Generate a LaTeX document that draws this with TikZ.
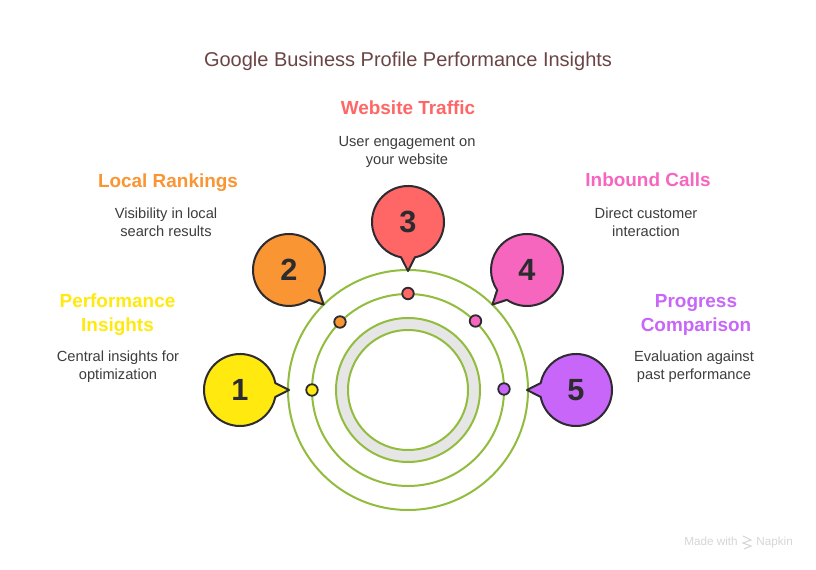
\documentclass[tikz,border=0pt]{standalone}
\usepackage{fontspec}
\setmainfont{Liberation Sans}
\usetikzlibrary{calc}
\definecolor{cgreen}{HTML}{92BC3D}
\definecolor{cring}{HTML}{E6E6E6}
\definecolor{cdark}{HTML}{2B2B30}
\definecolor{ctext}{HTML}{3D3D3D}
\definecolor{ctitle}{HTML}{6B4545}
\definecolor{cyel}{HTML}{FFE90F}
\definecolor{cora}{HTML}{F99533}
\definecolor{cred}{HTML}{FF6666}
\definecolor{cpink}{HTML}{F766BE}
\definecolor{cpur}{HTML}{C866F9}
\definecolor{cmark}{HTML}{D6D6D6}
\tikzset{
  ringline/.style={draw=cgreen,line width=1.5pt,fill=none},
  bubble/.style={draw=cdark,line width=1.5pt,line join=round},
  numlabel/.style={text=cdark,font=\fontsize{23}{23}\selectfont\bfseries,inner sep=0pt},
  dot/.style={circle,draw=cdark,line width=1.35pt,minimum size=11.5pt*0.75,inner sep=0pt},
  headlabel/.style={font=\fontsize{14.2}{18}\selectfont\bfseries,align=center,inner sep=0pt},
  bodylabel/.style={text=ctext,font=\fontsize{11}{13.5}\selectfont,align=center,inner sep=0pt},
  marklabel/.style={text=cmark,font=\fontsize{8.8}{10}\selectfont,inner sep=0pt,anchor=base west},
}
% name, centre, tail angle, colour, number
\newcommand{\bubblenode}[5]{%
  \coordinate (#1) at (#2);
  \path[bubble,fill=#4] ($(#1)+(#3:49)$) -- ($(#1)+(#3+11:36)$)
     arc[start angle=#3+11,end angle=#3+349,radius=27pt] -- cycle;
  \node[numlabel] (#1num) at (#1) {#5};
}
\begin{document}
\begin{tikzpicture}[x=0.75pt,y=0.75pt]
\useasboundingbox (0,0) rectangle (816,570);
\fill[white] (0,0) rectangle (816,570);
\node[text=ctitle,font=\fontsize{15}{18}\selectfont,inner sep=0pt] (title) at (408,508.5) {Google Business Profile Performance Insights};
% rings
\coordinate (hub) at (408,180);
\fill[cring,even odd rule] (hub) circle[radius=54pt] (hub) circle[radius=45pt];
\draw[ringline] (hub) circle[radius=90pt];
\draw[ringline] (hub) circle[radius=72pt];
\draw[ringline] (hub) circle[radius=54pt];
\draw[ringline] (hub) circle[radius=45pt];
% dots
\node[dot,fill=cyel] (d1) at (312,180) {};
\node[dot,fill=cora] (d2) at (340,248) {};
\node[dot,fill=cred] (d3) at (408,276.5) {};
\node[dot,fill=cpink] (d4) at (475.5,249) {};
\node[dot,fill=cpur] (d5) at (504,181) {};
% bubbles
\bubblenode{b1}{240,180}{0}{cyel}{1}
\bubblenode{b2}{289,300}{-45}{cora}{2}
\bubblenode{b3}{408,348}{-90}{cred}{3}
\bubblenode{b4}{527,300}{-135}{cpink}{4}
\bubblenode{b5}{576,180}{180}{cpur}{5}
% labels
\node[headlabel,text=cyel] (h1) at (117.5,255) {Performance\\[0pt]Insights};
\node[bodylabel] (t1) at (118,203) {Central insights for\\optimization};
\node[headlabel,text=cora] (h2) at (168,387) {Local Rankings};
\node[bodylabel] (t2) at (166,348) {Visibility in local\\search results};
\node[headlabel,text=cred] (h3) at (408,462) {Website Traffic};
\node[bodylabel] (t3) at (407,418) {User engagement on\\your website};
\node[headlabel,text=cpink] (h4) at (648,390) {Inbound Calls};
\node[bodylabel] (t4) at (646,348) {Direct customer\\interaction};
\node[headlabel,text=cpur] (h5) at (696,255) {Progress\\[0pt]Comparison};
\node[bodylabel] (t5) at (694,203) {Evaluation against\\past performance};
% watermark
\node[marklabel] (wm1) at (684,24) {Made with};
\node[marklabel] (wm2) at (756,24) {Napkin};
\draw[cmark,line width=0.8pt] (743,34) -- (751,30) -- (743,27) -- (751,24) -- (744,21);
\end{tikzpicture}
\end{document}
